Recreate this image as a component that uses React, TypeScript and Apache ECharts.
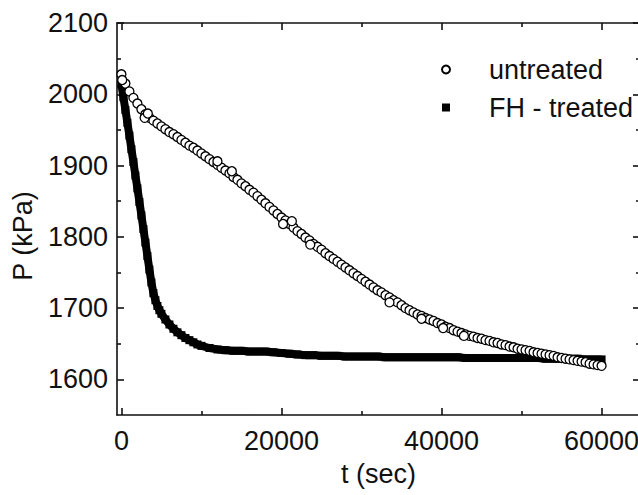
import React, { useEffect, useRef } from "react";
import * as echarts from "echarts";

// untreated: [t (sec), P (kPa)]
const untreated: [number, number][] = [
  [0, 2028], [500, 2015], [1000, 2004], [1500, 1995], [2000, 1987], [2500, 1979],
  [3000, 1972], [3500, 1967], [4000, 1963], [4500, 1959], [5000, 1955], [5500, 1951],
  [6000, 1947], [6500, 1944], [7000, 1940], [7500, 1936], [8000, 1932], [8500, 1928],
  [9000, 1925], [9500, 1921], [10000, 1917], [10500, 1913], [11000, 1909], [11500, 1905],
  [12000, 1901], [12500, 1897], [13000, 1893], [13500, 1889], [14000, 1884], [14500, 1880],
  [15000, 1875], [15500, 1871], [16000, 1866], [16500, 1862], [17000, 1857], [17500, 1852],
  [18000, 1847], [18500, 1842], [19000, 1837], [19500, 1832], [20000, 1827], [20500, 1823],
  [21000, 1818], [21500, 1813], [22000, 1808], [22500, 1804], [23000, 1799], [23500, 1795],
  [24000, 1790], [24500, 1786], [25000, 1782], [25500, 1777], [26000, 1773], [26500, 1769],
  [27000, 1765], [27500, 1761], [28000, 1757], [28500, 1753], [29000, 1749], [29500, 1745],
  [30000, 1741], [30500, 1737], [31000, 1733], [31500, 1729], [32000, 1725], [32500, 1722],
  [33000, 1718], [33500, 1715], [34000, 1711], [34500, 1708], [35000, 1704], [35500, 1700],
  [36000, 1697], [36500, 1694], [37000, 1691], [37500, 1689], [38000, 1686], [38500, 1684],
  [39000, 1682], [39500, 1679], [40000, 1677], [40500, 1674], [41000, 1672], [41500, 1669],
  [42000, 1667], [42500, 1665], [43000, 1663], [43500, 1661], [44000, 1660], [44500, 1658],
  [45000, 1657], [45500, 1655], [46000, 1654], [46500, 1652], [47000, 1651], [47500, 1649],
  [48000, 1648], [48500, 1646], [49000, 1645], [49500, 1643], [50000, 1642], [50500, 1641],
  [51000, 1640], [51500, 1638], [52000, 1637], [52500, 1636], [53000, 1635], [53500, 1634],
  [54000, 1633], [54500, 1631], [55000, 1630], [55500, 1629], [56000, 1628], [56500, 1627],
  [57000, 1626], [57500, 1625], [58000, 1624], [58500, 1622], [59000, 1621], [59500, 1620],
  [60000, 1619],
];

// scattered untreated readings off the main trend
const untreatedExtra: [number, number][] = [
  [100, 2020], [2900, 1967], [3300, 1973], [12000, 1906], [13800, 1892],
  [20200, 1818], [21300, 1822], [23600, 1789], [33500, 1708], [37500, 1685],
  [40200, 1672], [42800, 1661],
];

// FH - treated: [t (sec), P (kPa)]
const fhTreated: [number, number][] = [
  [0, 2014], [250, 1996], [500, 1978], [750, 1960], [1000, 1942], [1250, 1923],
  [1500, 1905], [1750, 1886], [2000, 1868], [2250, 1849], [2500, 1830], [2750, 1811],
  [3000, 1792], [3250, 1773], [3500, 1754], [3750, 1736], [4000, 1721], [4250, 1711],
  [4500, 1703], [4750, 1697], [5000, 1692], [5500, 1684], [6000, 1677], [6500, 1671],
  [7000, 1666], [7500, 1662], [8000, 1658], [8500, 1655], [9000, 1652], [9500, 1649],
  [10000, 1647], [11000, 1644], [12000, 1642], [13000, 1641], [14000, 1640], [15000, 1640],
  [16000, 1639], [17000, 1639], [18000, 1639], [19000, 1638], [20000, 1637], [21000, 1636],
  [22000, 1635], [23000, 1634], [24000, 1634], [25000, 1633], [26000, 1633], [27000, 1633],
  [28000, 1632], [29000, 1632], [30000, 1632], [31000, 1632], [32000, 1632], [33000, 1631],
  [34000, 1631], [35000, 1631], [36000, 1631], [37000, 1631], [38000, 1631], [39000, 1631],
  [40000, 1631], [41000, 1631], [42000, 1631], [43000, 1630], [44000, 1630], [45000, 1630],
  [46000, 1630], [47000, 1630], [48000, 1630], [49000, 1630], [50000, 1630], [51000, 1630],
  [52000, 1630], [53000, 1629], [54000, 1629], [55000, 1629], [56000, 1629], [57000, 1629],
  [58000, 1628], [59000, 1628], [60000, 1628],
];

const xMajorTicks = [0, 20000, 40000, 60000];
const xMinorTicks = [10000, 30000, 50000];
const yMajorTicks = [1600, 1700, 1800, 1900, 2000, 2100];
const yMinorTicks = [1650, 1750, 1850, 1950, 2050];

const X_MIN = -550;
const X_MAX = 64800;
const Y_MIN = 1550;
const Y_MAX = 2100;

const FONT = "Liberation Sans, Arial, sans-serif";
const INK = "#111";
const FS = 27;

export default function App() {
  const ref = useRef<HTMLDivElement>(null);

  useEffect(() => {
    if (!ref.current) return;
    const chart = echarts.init(ref.current, undefined, { renderer: "svg" });

    const lineStyle = { color: INK, width: 1.6 };
    const plain = (v: number) => String(v);

    const makeX = (position: string, ticks: number[], len: number, main: boolean, label: boolean) => ({
      type: "value",
      position,
      min: X_MIN,
      max: X_MAX,
      gridIndex: 0,
      axisLine: { show: main, onZero: false, lineStyle },
      axisTick: { show: true, inside: true, length: len, customValues: ticks, lineStyle },
      axisLabel: label
        ? { show: true, customValues: ticks, formatter: plain, fontSize: FS, fontFamily: FONT, color: INK, margin: 12 }
        : { show: false },
      splitLine: { show: false },
      ...(label
        ? {
            name: "t (sec)",
            nameLocation: "middle",
            nameGap: 45,
            nameTextStyle: { fontSize: FS, fontFamily: FONT, color: INK },
          }
        : {}),
    });

    const makeY = (position: string, ticks: number[], len: number, main: boolean, label: boolean) => ({
      type: "value",
      position,
      min: Y_MIN,
      max: Y_MAX,
      gridIndex: 0,
      axisLine: { show: main, onZero: false, lineStyle },
      axisTick: { show: true, inside: true, length: len, customValues: ticks, lineStyle },
      axisLabel: label
        ? { show: true, customValues: ticks, formatter: plain, fontSize: FS, fontFamily: FONT, color: INK, margin: 9 }
        : { show: false },
      splitLine: { show: false },
    });

    chart.setOption({
      animation: false,
      backgroundColor: "#fff",
      grid: {
        left: 117,
        top: 23,
        width: 523,
        height: 392,
        containLabel: false,
        outerBoundsMode: "none",
      },
      xAxis: [
        makeX("bottom", xMajorTicks, 7, true, true),
        makeX("bottom", xMinorTicks, 4, false, false),
        makeX("top", xMajorTicks, 7, true, false),
        makeX("top", xMinorTicks, 4, false, false),
      ],
      yAxis: [
        makeY("left", yMajorTicks, 7, true, true),
        makeY("left", yMinorTicks, 4, false, false),
        makeY("right", yMajorTicks, 7, true, false),
        makeY("right", yMinorTicks, 4, false, false),
      ],
      legend: {
        orient: "vertical",
        left: 436,
        top: 51,
        itemWidth: 8,
        itemHeight: 8,
        itemGap: 11,
        selectedMode: false,
        data: [
          { name: "untreated", icon: "circle" },
          { name: "FH - treated", icon: "rect" },
        ],
        textStyle: {
          fontSize: FS,
          fontFamily: FONT,
          color: INK,
          lineHeight: 27,
          padding: [0, 0, 0, 34],
        },
      },
      graphic: [
        {
          type: "text",
          x: 23,
          y: 236,
          rotation: Math.PI / 2,
          style: {
            text: "P (kPa)",
            fontSize: FS,
            fontFamily: FONT,
            fill: INK,
            align: "center",
            verticalAlign: "middle",
          },
        },
      ],
      series: [
        {
          name: "FH - treated",
          type: "line",
          xAxisIndex: 0,
          yAxisIndex: 0,
          data: fhTreated,
          symbol: "rect",
          symbolSize: 8,
          showSymbol: true,
          showAllSymbol: true,
          lineStyle: { color: "#000", width: 8 },
          itemStyle: { color: "#000" },
          z: 2,
        },
        {
          name: "untreated",
          type: "scatter",
          xAxisIndex: 0,
          yAxisIndex: 0,
          data: [...untreated, ...untreatedExtra],
          symbol: "circle",
          symbolSize: 9,
          itemStyle: { color: "#fff", borderColor: "#000", borderWidth: 1.3, opacity: 1 },
          z: 3,
        },
      ],
    });

    return () => chart.dispose();
  }, []);

  return (
    <div
      ref={ref}
      style={{ position: "fixed", left: 0, top: 0, width: 638, height: 495, background: "#fff" }}
    />
  );
}
